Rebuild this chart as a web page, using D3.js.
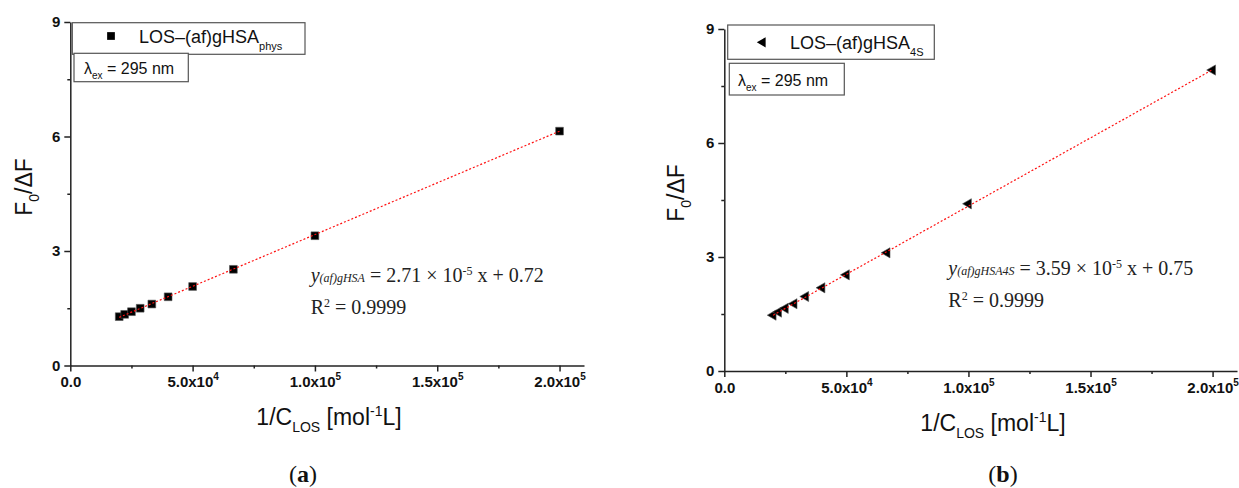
<!DOCTYPE html>
<html>
<head>
<meta charset="utf-8">
<script src="https://cdn.jsdelivr.net/npm/d3@7"></script>
<style>
  body { margin: 0; background: #fff; }
</style>
</head>
<body>
<svg id="chart" width="1239" height="488"></svg>
<script>
// 1/C_LOS values (mol^-1 L)
const concInv = [2e4, 2.222e4, 2.5e4, 2.857e4, 3.333e4, 4e4, 5e4, 6.667e4, 1e5, 2e5];
// F0/dF
const ratioPhys = [1.28, 1.34, 1.41, 1.50, 1.61, 1.80, 2.07, 2.52, 3.40, 6.14];
const ratio4S = [1.47, 1.55, 1.65, 1.77, 1.96, 2.19, 2.53, 3.11, 4.40, 7.92];
// fit parameters as printed in the plot: [slope, intercept]
const fitPhys = [2.71e-5, 0.72];
const fit4S = [3.59e-5, 0.75];
const xTicks = [0, 5e4, 1e5, 1.5e5, 2e5];
const xMinorTicks = [2.5e4, 7.5e4, 1.25e5, 1.75e5];
const xTickLabels = [['0.0', ''], ['5.0x10', '4'], ['1.0x10', '5'], ['1.5x10', '5'], ['2.0x10', '5']];
const yTicks = [0, 3, 6, 9];
const yMinorTicks = [1.5, 4.5, 7.5];

const svg = d3.select('#chart');
svg.append('rect').attr('width', 1239).attr('height', 488).attr('fill', '#fff');

const sans = 'Liberation Sans, Arial, sans-serif';
const serif = 'Liberation Serif, Times New Roman, serif';

function panel(o) {
  const g = svg.append('g');
  const x = d3.scaleLinear().domain([0, 2.1e5]).range([o.left, o.right]);
  const y = d3.scaleLinear().domain([0, 9]).range([o.bottom, o.top]);

  // minor ticks first
  g.append('g')
    .attr('transform', `translate(0,${o.bottom})`)
    .call(d3.axisBottom(x).tickValues(xMinorTicks).tickSize(3).tickSizeOuter(0).tickFormat(''))
    .call(s => s.select('.domain').remove());
  g.append('g')
    .attr('transform', `translate(${o.left},0)`)
    .call(d3.axisLeft(y).tickValues(yMinorTicks).tickSize(3).tickSizeOuter(0).tickFormat(''))
    .call(s => s.select('.domain').remove());

  const ax = g.append('g')
    .attr('transform', `translate(0,${o.bottom})`)
    .call(d3.axisBottom(x).tickValues(xTicks).tickSize(6).tickSizeOuter(0).tickPadding(5)
      .tickFormat((d, i) => xTickLabels[i][0]));
  ax.selectAll('.tick text').each(function (d, i) {
    if (xTickLabels[i][1]) {
      d3.select(this).append('tspan').attr('dy', -7).style('font-size', '10px').text(xTickLabels[i][1]);
    }
  });
  g.append('g')
    .attr('transform', `translate(${o.left},0)`)
    .call(d3.axisLeft(y).tickValues(yTicks).tickSize(6).tickSizeOuter(0).tickPadding(4));

  g.selectAll('.tick text')
    .style('font-family', sans).style('font-size', '15px').style('font-weight', 'bold')
    .attr('fill', '#111');
  g.selectAll('.domain, .tick line').attr('stroke', '#222').attr('stroke-width', 1.5);

  // markers
  const sym = d3.symbol().type(o.symbol).size(o.symbolSize);
  g.append('g').selectAll('path')
    .data(concInv)
    .join('path')
    .attr('d', sym)
    .attr('transform', (d, i) => `translate(${x(d)},${y(o.values[i])}) rotate(${o.rotate})`)
    .attr('fill', '#000')
    .attr('stroke', '#555')
    .attr('stroke-width', 0.6);

  // fit line (dotted red, drawn over the markers)
  const xs = d3.extent(concInv);
  g.append('line')
    .attr('x1', x(xs[0])).attr('y1', y(o.fit[0] * xs[0] + o.fit[1]))
    .attr('x2', x(xs[1])).attr('y2', y(o.fit[0] * xs[1] + o.fit[1]))
    .attr('stroke', '#ff1010')
    .attr('stroke-width', 1.2)
    .attr('stroke-dasharray', '2,2');

  // legend box
  const lg = o.legend;
  g.append('rect')
    .attr('x', lg.x).attr('y', lg.y).attr('width', lg.w).attr('height', lg.h)
    .attr('fill', '#fff').attr('stroke', '#555').attr('stroke-width', 1.2);
  g.append('path')
    .attr('d', sym)
    .attr('transform', `translate(${lg.mx},${lg.my}) rotate(${o.rotate})`)
    .attr('fill', '#000');
  const lt = g.append('text')
    .attr('x', lg.tx).attr('y', lg.ty)
    .attr('font-family', sans).attr('font-size', 18).attr('fill', '#111')
    .text('LOS\u2013(af)gHSA');
  lt.append('tspan').attr('dy', 7).attr('font-size', 11).text(o.sub);

  // excitation box
  const lb = o.lambda;
  g.append('rect')
    .attr('x', lb.x).attr('y', lb.y).attr('width', lb.w).attr('height', lb.h)
    .attr('fill', '#fff').attr('stroke', '#555').attr('stroke-width', 1.2);
  const lam = g.append('text')
    .attr('x', lb.tx).attr('y', lb.ty)
    .attr('font-family', sans).attr('font-size', 16).attr('fill', '#111')
    .text('\u03bb');
  lam.append('tspan').attr('dy', 5).attr('font-size', 10).text('ex');
  lam.append('tspan').attr('dy', -5).text(' = 295 nm');

  // equation
  const eq = g.append('text')
    .attr('x', o.eq.x).attr('y', o.eq.y)
    .attr('font-family', serif).attr('font-size', 20).attr('fill', '#222');
  eq.append('tspan').attr('font-style', 'italic').text('y');
  eq.append('tspan').attr('font-style', 'italic').attr('font-size', 12).text(o.eqSub);
  eq.append('tspan').text(` = ${o.fit[0] * 1e5} \u00d7 10`);
  eq.append('tspan').attr('font-size', 12).attr('dy', -7).text('-5');
  eq.append('tspan').attr('dy', 7).text(` x + ${o.fit[1].toFixed(2)}`);

  const r2 = g.append('text')
    .attr('x', o.eq.x).attr('y', o.eq.y + 32)
    .attr('font-family', serif).attr('font-size', 20).attr('fill', '#222')
    .text('R');
  r2.append('tspan').attr('font-size', 12).attr('dy', -7).text('2');
  r2.append('tspan').attr('dy', 7).text(' = 0.9999');

  // axis titles
  const xt = g.append('text')
    .attr('x', o.xTitle[0]).attr('y', o.xTitle[1])
    .attr('text-anchor', 'middle')
    .attr('font-family', sans).attr('font-size', 23).attr('fill', '#111')
    .text('1/C');
  xt.append('tspan').attr('dy', 7).attr('font-size', 14).text('LOS');
  xt.append('tspan').attr('dy', -7).text(' [mol');
  xt.append('tspan').attr('dy', -9).attr('font-size', 14).text('-1');
  xt.append('tspan').attr('dy', 9).text('L]');

  const yt = g.append('text')
    .attr('transform', `translate(${o.yTitle[0]},${o.yTitle[1]}) rotate(-90)`)
    .attr('text-anchor', 'middle')
    .attr('font-family', sans).attr('font-size', 23).attr('fill', '#111')
    .text('F');
  yt.append('tspan').attr('dy', 7).attr('font-size', 14).text('0');
  yt.append('tspan').attr('dy', -7).text('/\u0394F');

  // panel label
  const pl = g.append('text')
    .attr('x', o.label[0]).attr('y', o.label[1])
    .attr('text-anchor', 'middle')
    .attr('font-family', serif).attr('font-size', 24).attr('fill', '#111')
    .text('(');
  pl.append('tspan').attr('font-weight', 'bold').text(o.tag);
  pl.append('tspan').text(')');
}

panel({
  left: 70.3, right: 584, top: 22, bottom: 365.5,
  values: ratioPhys, fit: fitPhys,
  symbol: d3.symbolSquare, symbolSize: 60, rotate: 0,
  sub: 'phys', eqSub: '(af)gHSA',
  legend: { x: 72.3, y: 22.7, w: 232.7, h: 31.6, mx: 111, my: 36, tx: 139, ty: 43 },
  lambda: { x: 74, y: 53.3, w: 114.3, h: 28.4, tx: 84, ty: 74 },
  eq: { x: 310.7, y: 281.7 },
  xTitle: [329, 425], yTitle: [32, 187],
  label: [303, 482], tag: 'a'
});

panel({
  left: 724.3, right: 1237, top: 29, bottom: 371,
  values: ratio4S, fit: fit4S,
  symbol: d3.symbolTriangle, symbolSize: 45, rotate: -90,
  sub: '4S', eqSub: '(af)gHSA4S',
  legend: { x: 727.7, y: 25, w: 206.6, h: 34.3, mx: 762.7, my: 42.3, tx: 790, ty: 49.3 },
  lambda: { x: 729.3, y: 63.3, w: 115, h: 31.7, tx: 738, ty: 86 },
  eq: { x: 948.3, y: 275 },
  xTitle: [993, 431], yTitle: [684, 193],
  label: [1003, 482], tag: 'b'
});
</script>
</body>
</html>
